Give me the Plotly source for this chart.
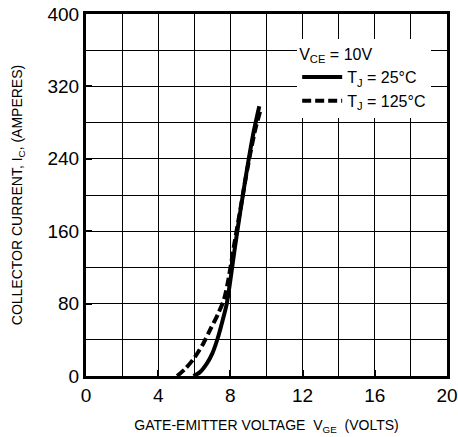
import plotly.graph_objects as go

# Data
v_25 = [5.95, 6.3, 6.7, 7.0, 7.3, 7.55, 7.8, 8.0, 8.25, 8.55, 8.9, 9.25, 9.6]
i_25 = [0, 4, 14, 25, 42, 60, 80, 106, 142, 182, 226, 266, 298]
v_125 = [5.05, 5.5, 6.0, 6.5, 6.9, 7.3, 7.65, 7.9, 8.2, 8.55, 8.95, 9.35, 9.7]
i_125 = [0, 8, 20, 36, 52, 68, 85, 108, 144, 184, 230, 270, 296]
x_ticks = [0, 4, 8, 12, 16, 20]
y_ticks = [0, 80, 160, 240, 320, 400]

font = "Liberation Sans, Arial, sans-serif"

fig = go.Figure()
fig.add_trace(go.Scatter(x=v_25, y=i_25, mode="lines", name="T<sub>J</sub> = 25°C",
                         line=dict(color="black", width=4, shape="spline", smoothing=0.8)))
fig.add_trace(go.Scatter(x=v_125, y=i_125, mode="lines", name="T<sub>J</sub> = 125°C",
                         line=dict(color="black", width=4, dash="9px,4px", shape="spline", smoothing=0.8)))

axis_common = dict(showline=True, linecolor="black", linewidth=3, mirror=True,
                   showgrid=True, gridcolor="black", gridwidth=1,
                   ticks="inside", ticklen=6, tickwidth=2, tickcolor="black",
                   zeroline=False, automargin=False,
                   tickfont=dict(family=font, size=19, color="black"))

fig.update_xaxes(range=[0, 20], tickvals=x_ticks, ticktext=[str(t) for t in x_ticks],
                 minor=dict(dtick=2, showgrid=True, gridcolor="black", gridwidth=1, ticks=""),
                 title=dict(text="GATE-EMITTER VOLTAGE  V<sub>GE</sub>  (VOLTS)",
                            font=dict(family=font, size=14, color="black"), standoff=16),
                 **axis_common)
fig.update_yaxes(range=[0, 400], tickvals=y_ticks, ticktext=[str(t) for t in y_ticks],
                 minor=dict(dtick=40, showgrid=True, gridcolor="black", gridwidth=1, ticks=""),
                 title=dict(text="COLLECTOR CURRENT, I<sub>C</sub>, (AMPERES)",
                            font=dict(family=font, size=14, color="black"), standoff=22),
                 **axis_common)

fig.update_layout(
    width=458, height=437,
    margin=dict(l=86, r=11, t=14, b=61),
    paper_bgcolor="white", plot_bgcolor="white",
    showlegend=True,
    legend=dict(x=0.585, y=0.93, xanchor="left", yanchor="top",
                bgcolor="white", borderwidth=0,
                font=dict(family=font, size=16, color="black"),
                title=dict(text="V<sub>CE</sub> = 10V", font=dict(family=font, size=16, color="black")),
                itemwidth=40, tracegroupgap=0),
)

fig.write_html("out.html")
